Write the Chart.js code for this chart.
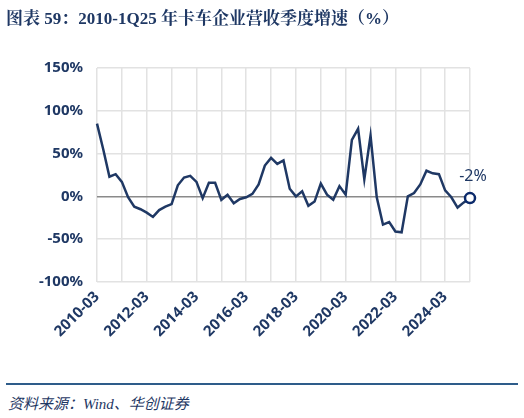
<!DOCTYPE html>
<html><head><meta charset="utf-8">
<script src="https://cdn.jsdelivr.net/npm/chart.js@4"></script>
<style>
body{margin:0;width:524px;height:418px;background:#fff;position:relative;overflow:hidden;font-family:"Liberation Serif","Noto Sans CJK SC",serif}
#title{position:absolute;left:6px;top:4px;font-size:17px;font-weight:bold;color:#1F3864;white-space:nowrap;font-family:"Liberation Serif","Noto Serif CJK SC","Noto Sans CJK SC",serif}
#c{position:absolute;left:0;top:0}
#rule{position:absolute;left:6px;top:383px;width:512px;height:2px;background:#2E5C8A}
#src{position:absolute;left:8px;top:392px;font-size:15px;font-style:italic;color:#1F3864;font-family:"Liberation Serif","Noto Sans CJK SC",serif}
</style></head><body>
<canvas id="c" width="524" height="375" style="width:524px;height:375px"></canvas>
<div id="title">图表 59：2010-1Q25 年卡车企业营收季度增速（%）</div>
<div id="rule"></div>
<div id="src">资料来源：Wind、华创证券</div>
<script>
const years=[];for(let y=2010;y<=2025;y++){for(const m of ['03','06','09','12']){years.push(y+'-'+m);}}
const categories=years.slice(0,61);
const growth=[85,55,23,26,17,-1,-12,-15,-19,-24,-16,-12,-9,13,22,24,17,-2,16,16,-4,2,-8,-3,-1,3,14,36,45,38,42,9,0,6,-11,-6,15,2,-4,12,2,66,79,20,71,-1,-33,-30,-41,-42,0,4,14,30,27,26,7,-1,-13,-7,-2];
const yTicks=[-100,-50,0,50,100,150];
const navy='#1F3864';
const lastLabel={id:'ll',afterDatasetsDraw(ch){const m=ch.getDatasetMeta(0).data;const p=m[m.length-1];const c=ch.ctx;c.save();c.font='16px "Noto Sans",sans-serif';c.fillStyle=navy;c.textAlign='center';c.fillText(growth[growth.length-1]+'%',p.x+3,p.y-17);c.restore();}};
new Chart(document.getElementById('c'),{type:'line',
data:{labels:categories,datasets:[{data:growth,borderColor:navy,borderWidth:2.5,tension:0,
pointRadius:growth.map((v,i)=>i===growth.length-1?5:0),pointBorderWidth:2.5,pointBackgroundColor:'#fff',pointBorderColor:'#0B2A6B'}]},
options:{responsive:false,animation:false,layout:{padding:{top:68,right:54,left:0,bottom:0}},
plugins:{legend:{display:false},tooltip:{enabled:false}},
scales:{
x:{offset:false,afterFit(s){s.height=93;},grid:{color:c=>c.index%4===0?'#e2e2e2':'transparent',lineWidth:1.5,drawTicks:false},border:{display:false},
ticks:{autoSkip:false,minRotation:45,maxRotation:45,padding:6,color:navy,font:{family:'"Noto Sans",sans-serif',size:15,weight:'bold'},callback:(v,i)=>i%8===0?categories[i]:''}},
y:{min:-100,max:150,afterFit(s){s.width=97;},afterBuildTicks(s){s.ticks=yTicks.map(v=>({value:v}));},
grid:{color:c=>c.tick&&c.tick.value===0?'#8a8a8a':'#e2e2e2',lineWidth:1.5,drawTicks:false},border:{display:false},
ticks:{padding:14,color:navy,font:{family:'"Noto Sans",sans-serif',size:15,weight:'bold'},callback:v=>v+'%'}}}},
plugins:[lastLabel]});
</script></body></html>
